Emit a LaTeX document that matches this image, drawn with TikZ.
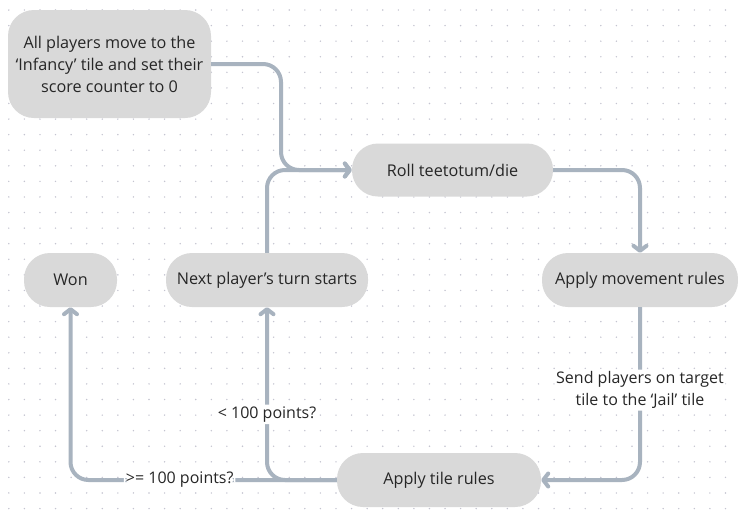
\documentclass[tikz,border=0pt]{standalone}
\usepackage{fontspec}
\setmainfont{Open Sans}
\usetikzlibrary{arrows.meta}
\definecolor{boxgray}{HTML}{D9D9D9}
\definecolor{linegray}{HTML}{A8B3BF}
\definecolor{dotgray}{HTML}{C4C4D0}
\definecolor{textgray}{HTML}{262626}
\tikzset{
	stepbox/.style={fill=boxgray, rounded corners=26pt, minimum height=54pt, inner sep=0pt,
		text=textgray, align=center, font=\fontsize{16.2}{22}\selectfont},
	flow/.style={draw=linegray, line width=4pt, rounded corners=18pt,
		-{Straight Barb[length=5pt, width=13pt, round]}},
	note/.style={fill=white, inner sep=2pt, text=textgray, align=center,
		font=\fontsize{16}{22}\selectfont}
}
\begin{document}
\begin{tikzpicture}[x=1pt, y=-1pt]
			\fill[white] (0, 0) rectangle (738, 512);
			\useasboundingbox (0, 0) rectangle (738, 512);
			\foreach \i in {0,...,46}
				\foreach \j in {0,...,32}
					\fill[dotgray] (8.8+15.58*\i, 10+15.58*\j) circle (0.8pt);
			\node[stepbox, minimum width=203pt, minimum height=108pt] (start) at (109.5, 64)
				{All players move to the\\‘Infancy’ tile and set their\\score counter to 0};
			\node[stepbox, minimum width=201pt, minimum height=53pt] (roll) at (452.5, 170) {Roll teetotum/die};
			\node[stepbox, minimum width=196pt] (move) at (640, 280) {Apply movement rules};
			\node[stepbox, minimum width=202pt] (next) at (267, 280) {Next player’s turn starts};
			\node[stepbox, minimum width=93pt] (won) at (70.5, 280) {Won};
			\node[stepbox, minimum width=204pt] (tile) at (439, 480) {Apply tile rules};
			\coordinate (join) at (281, 170);
			\draw[flow] (start.east) -| (join) -- (roll.west);
			\draw[flow] (next.north) |- (roll.west);
			\draw[flow] (roll.east) -| (move.north);
			\draw[flow] (move.south) |- (tile.east)
				node[note, pos=0.24] {Send players on target\\tile to the ‘Jail’ tile};
			\draw[flow] (tile.west) -| (won.south)
				node[note, pos=0.295] {>= 100 points?};
			\draw[flow] (tile.west) -| (next.south)
				node[note, pos=0.69] {< 100 points?};
		\end{tikzpicture}
\end{document}
